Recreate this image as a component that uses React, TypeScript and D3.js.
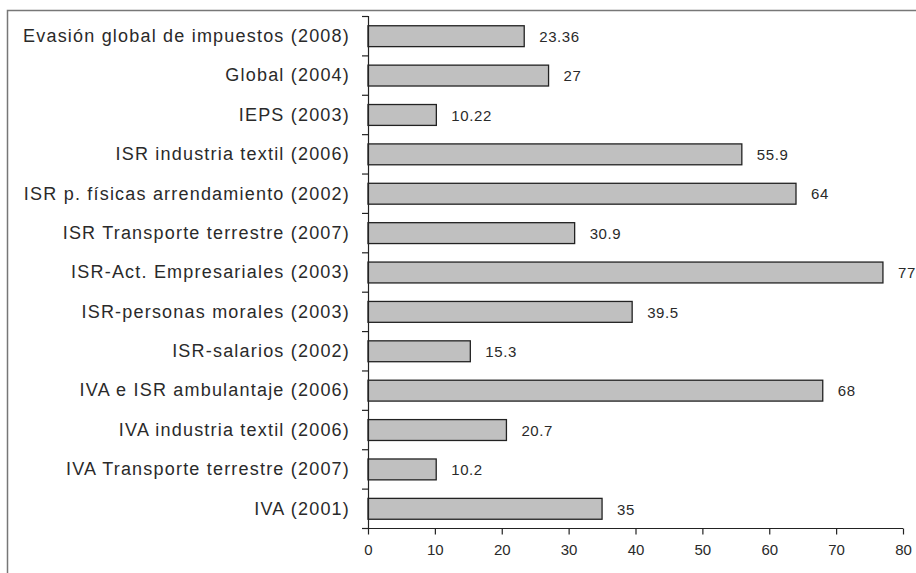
import React, { useEffect, useRef } from "react";
import * as d3 from "d3";

const categories: string[] = [
  "Evasión global de impuestos (2008)",
  "Global (2004)",
  "IEPS (2003)",
  "ISR industria textil (2006)",
  "ISR p. físicas arrendamiento (2002)",
  "ISR Transporte terrestre (2007)",
  "ISR-Act. Empresariales (2003)",
  "ISR-personas morales (2003)",
  "ISR-salarios (2002)",
  "IVA e ISR ambulantaje (2006)",
  "IVA industria textil (2006)",
  "IVA Transporte terrestre (2007)",
  "IVA (2001)",
];
const values: number[] = [23.36, 27, 10.22, 55.9, 64, 30.9, 77, 39.5, 15.3, 68, 20.7, 10.2, 35];
const valueLabels: string[] = ["23.36", "27", "10.22", "55.9", "64", "30.9", "77", "39.5", "15.3", "68", "20.7", "10.2", "35"];
const xTicks: number[] = [0, 10, 20, 30, 40, 50, 60, 70, 80];

const W = 916;
const H = 573;

export default function App() {
  const ref = useRef<SVGSVGElement | null>(null);

  useEffect(() => {
    const svg = d3.select(ref.current);
    svg.selectAll("*").remove();

    const left = 368, right = 903, top = 16, bottom = 528;
    const x = d3.scaleLinear().domain([0, 80]).range([left, right]);
    const y = d3.scaleBand<string>().domain(categories).range([top, bottom]).paddingInner(0.47).paddingOuter(0.235);
    const yb = d3.scaleBand<string>().domain(categories).range([top, bottom]);
    const font = "'Liberation Sans', Arial, sans-serif";
    const textColor = "#2a2a2a";

    // outer frame
    svg.append("rect").attr("x", 7.5).attr("y", 10.5).attr("width", W + 20).attr("height", H + 20)
      .attr("fill", "none").attr("stroke", "#777").attr("stroke-width", 1.5);

    // bars
    svg.append("g").selectAll("rect").data(values).join("rect")
      .attr("x", x(0))
      .attr("y", (_d, i) => (y(categories[i]) as number) + 0.5)
      .attr("width", (d) => x(d) - x(0))
      .attr("height", y.bandwidth())
      .attr("fill", "#c0c0c0")
      .attr("stroke", "#222")
      .attr("stroke-width", 1.3);

    // value labels
    svg.append("g").selectAll("text").data(values).join("text")
      .attr("x", (d) => x(d) + 15)
      .attr("y", (_d, i) => (yb(categories[i]) as number) + yb.bandwidth() / 2 + 1)
      .attr("dy", "0.35em")
      .attr("font-family", font)
      .attr("font-size", 15)
      .attr("letter-spacing", 0.6)
      .attr("fill", textColor)
      .text((_d, i) => valueLabels[i]);

    // y axis
    const yAxis = d3.axisLeft(yb).tickSize(0).tickFormat(() => "");
    const gy = svg.append("g").attr("transform", `translate(${left},0)`).call(yAxis);
    gy.select(".domain").remove();
    gy.append("line").attr("x1", 0.5).attr("x2", 0.5).attr("y1", top).attr("y2", bottom)
      .attr("stroke", "#222").attr("stroke-width", 1.2);
    const bounds = [...categories.map((c) => yb(c) as number), bottom];
    gy.append("g").selectAll("line").data(bounds).join("line")
      .attr("x1", -6).attr("x2", 0).attr("y1", (d) => d + 0.5).attr("y2", (d) => d + 0.5)
      .attr("stroke", "#222").attr("stroke-width", 1.2);

    // category labels
    svg.append("g").selectAll("text").data(categories).join("text")
      .attr("x", 350)
      .attr("y", (d) => (yb(d) as number) + yb.bandwidth() / 2)
      .attr("dy", "0.35em")
      .attr("text-anchor", "end")
      .attr("font-family", font)
      .attr("font-size", 18)
      .attr("letter-spacing", 1.2)
      .attr("fill", textColor)
      .text((d) => d);

    // x axis
    const xAxis = d3.axisBottom(x).tickValues(xTicks).tickSize(6).tickPadding(10).tickFormat(d3.format("d"));
    const gx = svg.append("g").attr("transform", `translate(0,${bottom + 0.5})`).call(xAxis);
    gx.select(".domain").attr("stroke", "#222").attr("stroke-width", 1.2).attr("d", `M${left},0H${right}`);
    gx.selectAll(".tick line").attr("stroke", "#222").attr("stroke-width", 1.2);
    gx.selectAll(".tick text").attr("font-family", font).attr("font-size", 15).attr("fill", textColor);
  }, []);

  return (
    <svg ref={ref} width={W} height={H} style={{ position: "absolute", left: 0, top: 0, background: "#fff" }} />
  );
}
